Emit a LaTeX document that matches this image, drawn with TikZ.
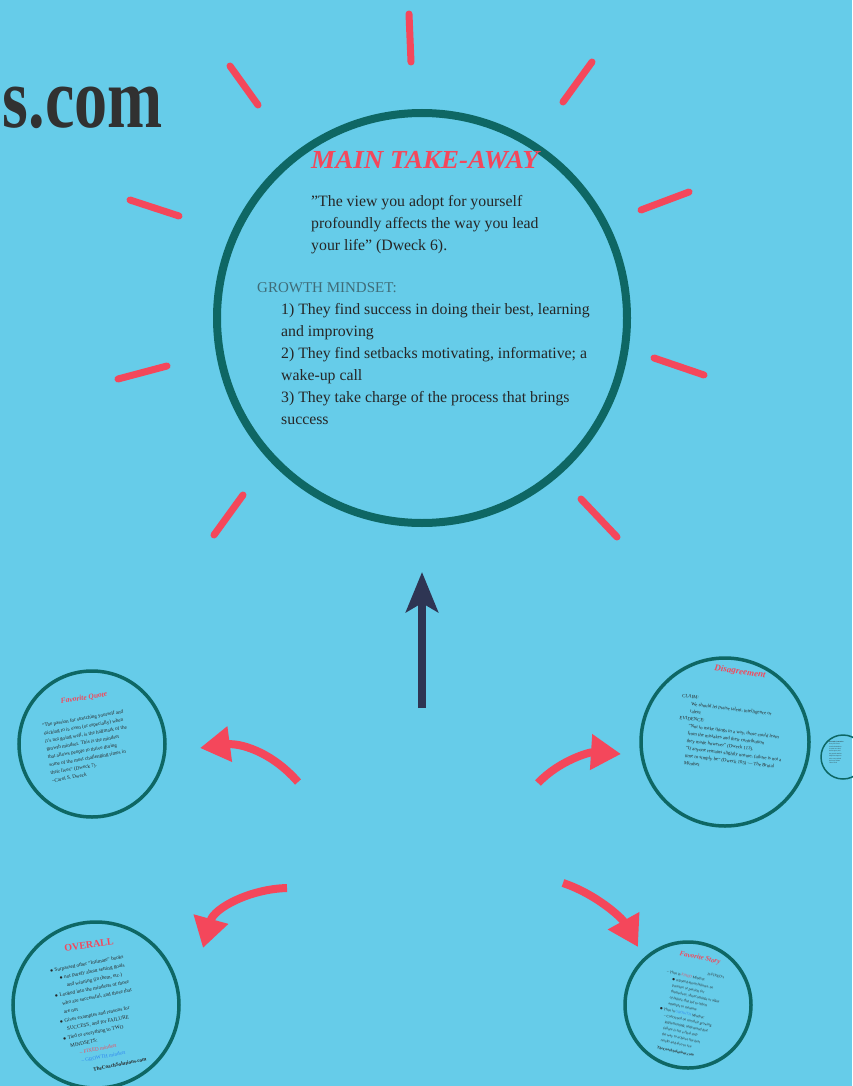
\documentclass[tikz,border=0pt]{standalone}
\usepackage{fontspec}
\setmainfont{Liberation Serif}
\usetikzlibrary{arrows.meta}
\definecolor{bg}{HTML}{66CCE9}
\definecolor{teal}{HTML}{0E6764}
\definecolor{rayred}{HTML}{F4475B}
\definecolor{navy}{HTML}{2E3553}
\definecolor{ink}{HTML}{262626}
\definecolor{gm}{HTML}{3F6C78}
\definecolor{bluetxt}{HTML}{2F86F0}
\tikzset{
  ray/.style={rayred, line width=7pt, line cap=round},
  bigring/.style={draw=teal, line width=8pt, circle, minimum size=410pt, inner sep=0pt},
  ring/.style={draw=teal, line width=3.5pt, circle, inner sep=0pt},
  body/.style={font=\fontsize{15.8}{22}\selectfont, text=ink, align=left, inner sep=0pt, anchor=north west},
  curvarrow/.style={draw=rayred, line width=8pt, -{Triangle[length=30pt,width=34pt]}},
  uparrow/.style={draw=navy, line width=8pt, -{Stealth[length=40pt,width=32pt,inset=9pt]}},
  minititle/.style={text=rayred, font=\bfseries\itshape, inner sep=0pt},
  minibody/.style={text=ink, align=left, inner sep=0pt},
}
\begin{document}
\begin{tikzpicture}[x=1pt,y=-1pt]
\path[use as bounding box, fill=bg] (0,0) rectangle (852,1086);

% header fragment
\node[anchor=base east, inner sep=0pt, text=ink!95, font=\fontsize{86}{86}\selectfont\bfseries, xscale=0.77] (site) at (163,128) {s.com};

% rays
\draw[ray] (409,14) -- (411,62);
\draw[ray] (230,66) -- (258,105);
\draw[ray] (592,62) -- (563,102);
\draw[ray] (130,200) -- (179,216);
\draw[ray] (641,210) -- (689,192);
\draw[ray] (118,379) -- (167,366);
\draw[ray] (654,358) -- (704,375);
\draw[ray] (243,495) -- (214,535);
\draw[ray] (581,499) -- (617,537);

% main circle
\node[bigring] (main) at (422,318) {};
\node[anchor=base west, inner sep=0pt, text=rayred, font=\fontsize{26}{26}\selectfont\bfseries\itshape, xscale=1.04] (title) at (311,169) {MAIN TAKE-AWAY};
\node[body] (quote) at (311,195) {\symbol{"22}The view you adopt for yourself\\profoundly affects the way you lead\\your life\symbol{"22} (Dweck 6).};
\node[body, text=gm, font=\fontsize{15}{22}\selectfont] (gmhead) at (257,282.5) {GROWTH MINDSET:};
\node[body] (items) at (281,303.5) {1) They find success in doing their best, learning\\and improving\\2) They find setbacks motivating, informative; a\\wake-up call\\3) They take charge of the process that brings\\success};

% up arrow
\coordinate (upstart) at (422,708);
\coordinate (uptip) at (422,572);
\draw[uparrow] (upstart) -- (uptip);

% favorite quote circle
\node[ring, minimum size=146pt] (fq) at (92,744) {};
\node[minititle, font=\fontsize{7.5}{7.5}\selectfont\bfseries\itshape, rotate=9] (fqt) at (84,698) {Favorite Quote};
\node[minibody, font=\fontsize{5.1}{8}\selectfont, rotate=10] (fqb) at (88,746) {\symbol{"22}The passion for stretching yourself and\\sticking to it, even (or especially) when\\it's not going well, is the hallmark of the\\growth mindset. This is the mindset\\that allows people to thrive during\\some of the most challenging times in\\their lives\symbol{"22} (Dweck 7).\\--Carol S. Dweck};

% disagreement circle
\node[ring, minimum size=168pt] (dis) at (725,742) {};
\node[minititle, font=\fontsize{9}{9}\selectfont\bfseries\itshape, rotate=-8] (dist) at (740,672) {Disagreement};
\node[minibody, font=\fontsize{4.8}{7.4}\selectfont, rotate=-7] (disb) at (731,735) {CLAIM:\\\hspace*{10pt}We should let praise talent, intelligence or\\\hspace*{10pt}talent\\EVIDENCE:\\\hspace*{10pt}\symbol{"22}Not to make things in a way, those could learn\\\hspace*{10pt}from the mistakes and their contribution\\\hspace*{10pt}they made however\symbol{"22} (Dweck 113).\\\hspace*{10pt}\symbol{"22}If anyone remains slightly unsure, failure is not a\\\hspace*{10pt}time to simply be\symbol{"22} (Dweck 105) --- The Brutal\\\hspace*{10pt}Mindset};

% small right circle
\node[ring, line width=1.5pt, minimum size=44pt] (tiny) at (843,757) {};
\node[minibody, font=\fontsize{1.6}{2.4}\selectfont, anchor=north west] (tinyb) at (829,741) {\textbf{Personal Connection}\\In my life I have\\seen both mindsets\\in action at school\\and in sports, and\\the growth mindset\\helped me improve\\after every setback\\and every failure\\I have faced};

% overall circle
\node[ring, minimum size=166pt] (ov) at (96,1005) {};
\node[minititle, font=\fontsize{10}{10}\selectfont\bfseries, rotate=8] (ovt) at (89,945) {OVERALL};
\node[minibody, font=\fontsize{5.2}{8.6}\selectfont, rotate=11] (ovb) at (98,1015) {$\bullet$ Surpassed other \symbol{"22}Intimate\symbol{"22} books\\\hspace*{8pt}$\bullet$ not purely about setting goals\\\hspace*{14pt}and winning (in them, etc.)\\$\bullet$ Looked into the mindsets of those\\\hspace*{6pt}who are successful, and those that\\\hspace*{6pt}are not\\$\bullet$ Gives examples and reasons for\\\hspace*{6pt}SUCCESS, and for FAILURE\\$\bullet$ Tied to everything to TWO\\\hspace*{6pt}MINDSETS:\\\hspace*{14pt}\textcolor{rayred}{-- FIXED mindset}\\\hspace*{14pt}\textcolor{bluetxt}{-- GROWTH mindset}\\[2pt]\hspace*{24pt}\textbf{TheCoachSolutions.com}};

% favorite story circle
\node[ring, minimum size=126pt] (fs) at (688,1005) {};
\node[minititle, font=\fontsize{7}{7}\selectfont\bfseries\itshape, rotate=-12] (fst) at (700,958) {Favorite Story};
\node[minibody, font=\fontsize{3.6}{6.2}\selectfont, rotate=-12] (fsb) at (688,1012) {\hspace*{40pt}In FIXED's\\-- Then in \textcolor{rayred}{FIXED} Mindset:\\\hspace*{6pt}$\bullet$ reported about failures, no\\\hspace*{8pt}pressure or passion for\\\hspace*{8pt}themselves, shortcomings or signs\\\hspace*{8pt}of failure that led to others\\\hspace*{8pt}attempts to measure\\$\bullet$ Then in \textcolor{bluetxt}{GROWTH} Mindset:\\\hspace*{6pt}-- Concerned on not their growing\\\hspace*{8pt}implementing; understand that\\\hspace*{8pt}failure is not a final step\\\hspace*{8pt}the way to achieve the best\\\hspace*{8pt}results and also to see\\[2pt]\hspace*{6pt}\textbf{TheCoachSolutions.com}};

% curved arrows
\coordinate (a1s) at (298,782); \coordinate (a1e) at (200,748);
\coordinate (a2s) at (538,783); \coordinate (a2e) at (621,754);
\coordinate (a3s) at (287,888); \coordinate (a3e) at (203,948);
\coordinate (a4s) at (563,883); \coordinate (a4e) at (638,947);
\draw[curvarrow] (a1s) .. controls (270,750) and (238,743) .. (a1e);
\draw[curvarrow] (a2s) .. controls (560,760) and (590,752) .. (a2e);
\draw[curvarrow] (a3s) .. controls (250,889) and (214,908) .. (a3e);
\draw[curvarrow] (a4s) .. controls (596,894) and (622,918) .. (a4e);
\end{tikzpicture}
\end{document}
